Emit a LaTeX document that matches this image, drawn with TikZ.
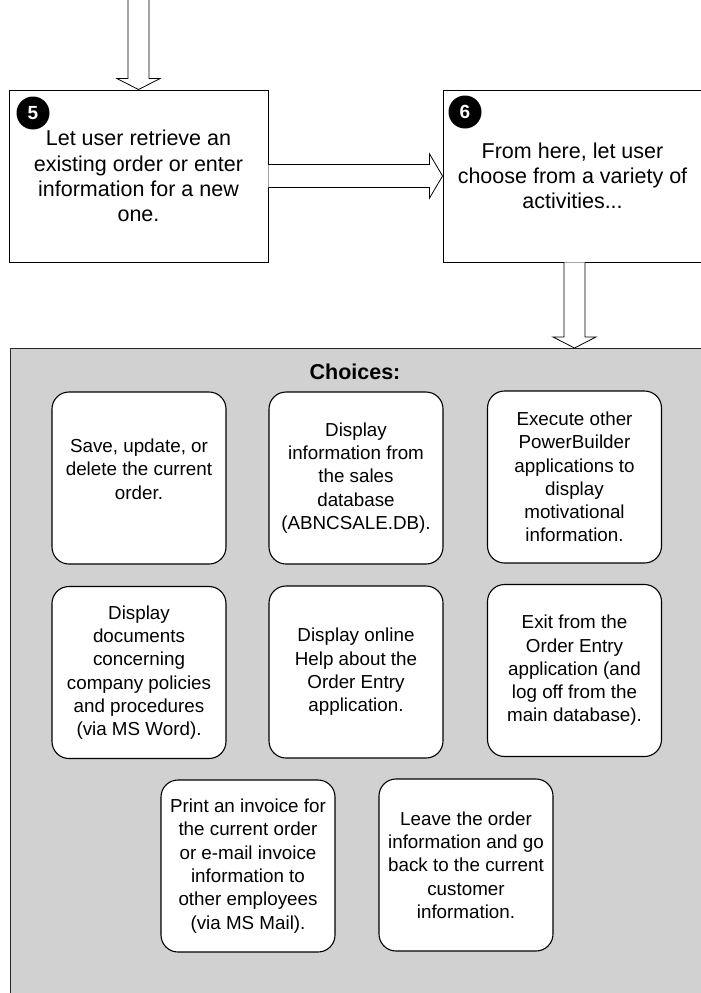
\documentclass[tikz,border=0pt]{standalone}
\usepackage{fontspec}
\setmainfont{Liberation Sans}
\usetikzlibrary{calc}

\tikzset{
  stepbox/.style={draw, line width=0.9pt, fill=white, minimum width=259pt,
    minimum height=172pt, align=center, inner sep=0pt,
    font=\fontsize{21.5}{25.3}\selectfont},
  badge/.style={circle, fill=black, text=white, minimum size=33pt, inner sep=0pt,
    font=\fontsize{19}{19}\selectfont\bfseries},
  choice/.style={draw, line width=1.1pt, fill=white, rounded corners=17pt,
    minimum width=174pt, minimum height=172pt, align=center, inner sep=0pt,
    font=\fontsize{18.8}{23.3}\selectfont},
  hollow/.style={draw=black, line width=0.8pt, fill=white, line join=miter},
  panel/.style={fill=black!18, draw=none},
  rim/.style={draw=black!85, line width=1pt}
}

% hollow block arrow pointing down, from #1 (top) to #2 (tip)
\newcommand{\blockdown}[2]{%
  \draw[hollow] ($(#1)+(-10.5,0)$) -- ($(#2)+(-10.5,-11)$) -- ($(#2)+(-21.5,-11)$)
    -- (#2) -- ($(#2)+(21.5,-11)$) -- ($(#2)+(10.5,-11)$) -- ($(#1)+(10.5,0)$);}
% hollow block arrow pointing right, from #1 (tail) to #2 (tip)
\newcommand{\blockright}[2]{%
  \draw[hollow] ($(#1)+(0,-11.5)$) -- ($(#2)+(-13,-11.5)$) -- ($(#2)+(-13,-22)$)
    -- (#2) -- ($(#2)+(-13,22)$) -- ($(#2)+(-13,11.5)$) -- ($(#1)+(0,11.5)$);}

\begin{document}
\begin{tikzpicture}[x=1pt,y=-1pt]
\useasboundingbox (0,0) rectangle (701,993);

% shaded panel holding the choices
\node[panel, anchor=north west, minimum width=700pt, minimum height=660pt,
      inner sep=0pt] (panel) at (10,348) {};
\draw[rim] (panel.north east) -- (panel.north west) -- (panel.south west);
\node[font=\fontsize{21.5}{25}\selectfont\bfseries] (title) at (355,372) {Choices:};

% steps 5 and 6
\node[stepbox] (s5) at (138.5,176) {Let user retrieve an\\existing order or enter\\information for a new\\one.};
\node[stepbox] (s6) at (572.5,176) {From here, let user\\choose from a variety of\\activities...};
\node[badge] (b5) at (33,113) {5};
\node[badge] (b6) at (465,112) {6};

% connectors
\coordinate (entry) at (138.5,-2);
\blockdown{entry}{s5.north}
\blockright{s5.east}{s6.west}
\coordinate (s6out) at ($(s6.south)+(2,0)$);
\coordinate (panelin) at (s6out |- panel.north);
\blockdown{s6out}{panelin}

% choice boxes
\node[choice, text depth=18pt] (c1) at (139,478) {Save, update, or\\delete the current\\order.};
\node[choice] (c2) at (356,478) {Display\\information from\\the sales\\database\\(ABNCSALE.DB).};
\node[choice] (c3) at (574.5,477) {Execute other\\PowerBuilder\\applications to\\display\\motivational\\information.};
\node[choice] (c4) at (139,672.5) {Display\\documents\\concerning\\company policies\\and procedures\\(via MS Word).};
\node[choice] (c5) at (356,672) {Display online\\Help about the\\Order Entry\\application.};
\node[choice] (c6) at (574.5,670.5) {Exit from the\\Order Entry\\application (and\\log off from the\\main database).};
\node[choice] (c7) at (248,866) {Print an invoice for\\the current order\\or e-mail invoice\\information to\\other employees\\(via MS Mail).};
\node[choice] (c8) at (466,865) {Leave the order\\information and go\\back to the current\\customer\\information.};
\end{tikzpicture}
\end{document}
